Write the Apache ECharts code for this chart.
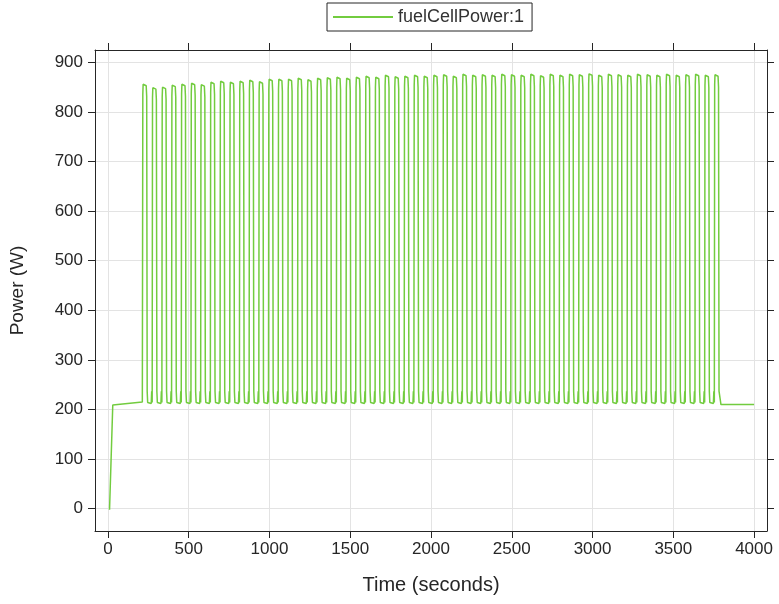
<!DOCTYPE html>
<html>
<head>
<meta charset="utf-8">
<script src="https://cdn.jsdelivr.net/npm/echarts@6/dist/echarts.min.js"></script>
<style>html,body{margin:0;padding:0;background:#fff}#c{width:779px;height:604px}</style>
</head>
<body>
<div id="c"></div>
<script>
// ---- data ----
const seriesName = 'fuelCellPower:1';
const xTicks = [0, 500, 1000, 1500, 2000, 2500, 3000, 3500, 4000];
const yTicks = [0, 100, 200, 300, 400, 500, 600, 700, 800, 900];
// start-up ramp (time s, power W)
const rampTimes = [10, 30, 213];
const rampPower = [-2, 209, 215];
// pulse train: first pulse start, period (s), peaks of each pulse (W), trough (W)
const pulseFirstStart = 213;
const pulsePeriod = 60;
const pulsePeaks = [856,849,850,854,856,858,855,860,862,860,
                    862,864,861,866,866,866,868,865,868,869,
                    870,868,870,872,870,874,871,872,874,872,
                    874,875,872,876,874,875,874,876,875,874,
                    876,873,876,874,876,875,877,874,876,875,
                    874,876,875,874,876,874,875,876,874,875];
const pulseLow = 212;
// tail
const tailTimes = [3795, 4000];
const tailPower = [210, 210];

// ---- build line points ----
const pts = [];
rampTimes.forEach((t, i) => pts.push([t, rampPower[i]]));
pulsePeaks.forEach((pk, i) => {
  const s = pulseFirstStart + i * pulsePeriod;
  const last = i === pulsePeaks.length - 1;
  pts.push([s + 1, pulseLow + 2]);
  pts.push([s + 3, pk - 20]);
  pts.push([s + 5, pk]);
  pts.push([s + 9, pk - 4]);
  pts.push([s + 24, pk - 3]);
  pts.push([s + 27, pk - 25]);
  pts.push([s + 30, pulseLow + 25]);
  if (!last) {
    pts.push([s + 33, pulseLow + 2]);
    pts.push([s + 38, pulseLow]);
    pts.push([s + 55, pulseLow]);
    pts.push([s + 58, pulseLow + 25]);
  }
});
tailTimes.forEach((t, i) => pts.push([t, tailPower[i]]));

const txt = '#262626';
const font = 'Liberation Sans, Arial, sans-serif';
const xMin = -80, xMax = 4080, yMin = -45, yMax = 925;
const fmt = v => String(v);

function xAx(pos, main) {
  return {
    type: 'value', position: pos, min: xMin, max: xMax,
    axisLine: { show: true, onZero: false, lineStyle: { color: txt, width: 1 } },
    axisTick: { show: true, inside: false, length: 7, lineStyle: { color: txt }, customValues: xTicks },
    axisLabel: { show: main, customValues: xTicks, formatter: fmt, color: txt, fontSize: 17, fontFamily: font, margin: 10 },
    splitLine: { show: main, lineStyle: { color: '#e3e3e3', width: 1 } },
    name: main ? 'Time (seconds)' : '', nameLocation: 'middle', nameGap: 44,
    nameTextStyle: { color: txt, fontSize: 20, fontFamily: font }
  };
}
function yAx(pos, main) {
  return {
    type: 'value', position: pos, min: yMin, max: yMax,
    axisLine: { show: true, onZero: false, lineStyle: { color: txt, width: 1 } },
    axisTick: { show: true, inside: false, length: 7, lineStyle: { color: txt }, customValues: yTicks },
    axisLabel: { show: main, customValues: yTicks, formatter: fmt, color: txt, fontSize: 17, fontFamily: font, margin: 12 },
    splitLine: { show: main, lineStyle: { color: '#e3e3e3', width: 1 } },
    name: main ? 'Power (W)' : '', nameLocation: 'middle', nameGap: 68,
    nameTextStyle: { color: txt, fontSize: 19, fontFamily: font }
  };
}

const chart = echarts.init(document.getElementById('c'), null, { renderer: 'canvas' });
chart.setOption({
  animation: false,
  backgroundColor: '#fff',
  grid: { left: 95, right: 12, top: 50, bottom: 73, containLabel: false },
  legend: {
    left: 327, top: 3, orient: 'horizontal',
    backgroundColor: '#fff', borderColor: txt, borderWidth: 1, borderRadius: 0,
    padding: [5, 8, 5, 6], itemWidth: 60, itemHeight: 2, itemGap: 4,
    icon: 'rect',
    textStyle: { color: '#333', fontSize: 18, fontFamily: font, padding: [0, 0, 0, 0] },
    data: [{ name: seriesName }]
  },
  xAxis: [xAx('bottom', true), xAx('top', false)],
  yAxis: [yAx('left', true), yAx('right', false)],
  series: [{
    name: seriesName, type: 'line', xAxisIndex: 0, yAxisIndex: 0,
    data: pts, showSymbol: false, symbol: 'none', smooth: false,
    lineStyle: { color: '#72cc3f', width: 1.5 },
    itemStyle: { color: '#72cc3f' }
  }]
});
</script>
</body>
</html>
